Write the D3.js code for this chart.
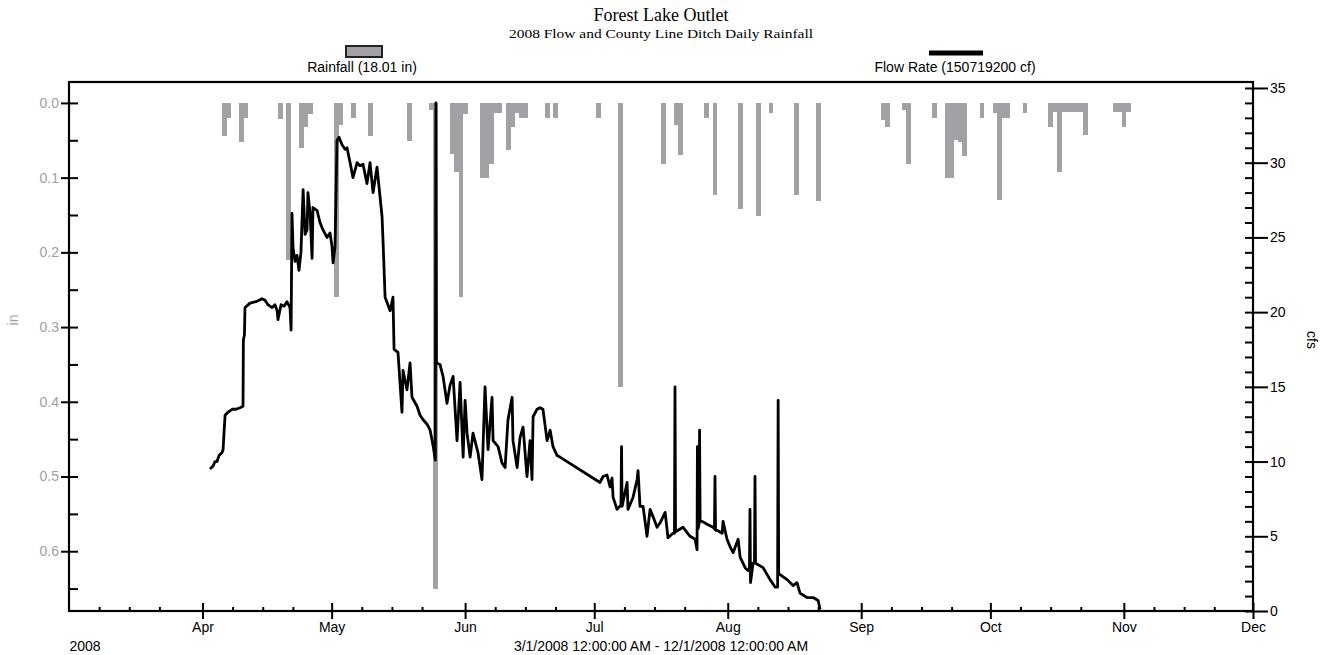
<!DOCTYPE html>
<html>
<head>
<meta charset="utf-8">
<script src="https://cdn.jsdelivr.net/npm/d3@7"></script>
<style>
  body { margin: 0; background: #fff; }
  text { font-family: "Liberation Sans", Arial, sans-serif; }
  .serif { font-family: "Liberation Serif", "Times New Roman", serif; }
</style>
</head>
<body>
<svg id="chart" width="1322" height="655"></svg>
<script>
// Daily rainfall, County Line Ditch (in)
var rainDates = ["04-06","04-07","04-10","04-11","04-19","04-21","04-24","04-25","04-26",
  "05-02","05-03","05-06","05-10","05-19","05-24","05-25","05-29","05-30","05-31",
  "06-01","06-05","06-06","06-07","06-08","06-09","06-11","06-12","06-13","06-14","06-15","06-20","06-22",
  "07-02","07-07","07-17","07-20","07-21","07-27","07-29",
  "08-04","08-08","08-11","08-17","08-22",
  "09-06","09-07","09-11","09-12","09-18","09-21","09-22","09-23","09-24","09-25","09-29",
  "10-02","10-03","10-04","10-05","10-09","10-15","10-16","10-17","10-18","10-19","10-20","10-21","10-22","10-23",
  "10-30","10-31","11-01","11-02"];
var rainInches = [0.044,0.02,0.052,0.02,0.021,0.21,0.06,0.032,0.015,
  0.26,0.03,0.02,0.044,0.051,0.01,0.65,0.069,0.092,0.26,
  0.015,0.1,0.1,0.082,0.013,0.013,0.063,0.032,0.013,0.02,0.02,0.02,0.02,
  0.02,0.38,0.082,0.03,0.07,0.02,0.123,
  0.142,0.151,0.013,0.123,0.131,
  0.023,0.032,0.01,0.082,0.02,0.1,0.1,0.05,0.052,0.071,0.02,
  0.013,0.13,0.02,0.02,0.013,0.032,0.012,0.092,0.012,0.012,0.012,0.012,0.012,0.043,
  0.012,0.012,0.032,0.012];

// Forest Lake outlet flow (cfs), "MM-DD HH"
var flowTimes = ["04-02 18","04-03 11","04-03 22","04-04 09","04-04 20","04-05 13","04-05 19","04-06 00",
  "04-06 06","04-06 22","04-07 21","04-08 19","04-09 17","04-10 10","04-10 12","04-10 18","04-10 21",
  "04-12 01","04-13 10","04-14 20","04-15 13","04-16 05","04-17 04","04-17 20","04-18 08","04-18 13",
  "04-19 06","04-19 23","04-20 15","04-21 08","04-21 14","04-21 19","04-22 01","04-22 12","04-22 23",
  "04-23 10","04-23 21","04-24 09","04-24 20","04-25 07","04-25 12","04-26 00","04-26 11","04-26 16",
  "04-27 15","04-28 07","04-29 00","04-29 22","04-30 15",
  "05-01 02","05-01 08","05-01 19","05-02 06","05-02 17","05-03 10","05-04 03","05-04 14","05-05 07",
  "05-05 23","05-06 22","05-07 14","05-08 07","05-09 05","05-09 22","05-10 15","05-11 13","05-12 06",
  "05-12 17","05-12 23","05-13 10","05-14 14","05-15 06","05-15 12","05-16 10","05-17 08","05-17 14",
  "05-18 12","05-19 05","05-19 16","05-20 20","05-21 13","05-22 06","05-23 04","05-23 21","05-24 13",
  "05-25 02","05-25 05","05-25 08","05-26 04","05-26 21","05-27 19","05-28 12","05-29 05","05-30 03",
  "05-30 20","05-31 13",
  "06-01 00","06-01 11","06-02 04","06-02 20","06-04 00","06-04 22","06-05 15","06-06 08","06-07 06",
  "06-07 12","06-08 16","06-09 14","06-10 07","06-10 23","06-11 22","06-12 03","06-13 02","06-13 18",
  "06-14 11","06-15 09","06-16 02","06-16 13","06-16 19","06-17 17","06-18 10","06-19 02","06-20 01",
  "06-20 18","06-21 10","06-22 09","06-23 01",
  "07-02 08","07-03 01","07-03 23","07-04 16","07-05 03","07-05 09","07-06 07","07-07 05","07-07 08",
  "07-07 11","07-08 15","07-08 20","07-10 00","07-10 23","07-11 04","07-11 15","07-12 08","07-13 06",
  "07-13 23","07-14 16","07-15 14","07-16 07","07-17 11","07-18 03","07-19 07","07-19 15","07-19 18",
  "07-19 21","07-21 15","07-23 06","07-24 10","07-24 21","07-24 23","07-25 02","07-25 08","07-25 11",
  "07-25 14","07-26 01","07-27 05","07-28 14","07-28 22","07-29 01","07-29 04","07-29 13","07-30 17",
  "07-30 22","07-31 20",
  "08-01 13","08-02 06","08-03 10","08-03 21","08-05 01","08-05 17","08-06 01","08-06 04","08-06 07",
  "08-06 21","08-07 05","08-07 08","08-07 11","08-09 05","08-10 20","08-12 00","08-12 14","08-12 17",
  "08-12 20","08-14 19","08-16 04","08-17 02","08-17 19","08-19 10","08-20 20","08-22 00","08-22 11"];
var flowCfs = [9.5,9.7,10.0,10.0,10.4,10.6,10.8,11.9,
  13.1,13.3,13.5,13.5,13.6,13.7,18.1,18.5,20.3,
  20.6,20.7,20.9,20.8,20.5,20.3,20.5,20.1,19.5,
  20.5,20.4,20.7,20.3,18.8,26.6,24.3,23.4,23.8,
  22.8,24.0,28.2,25.2,25.5,28.0,26.6,23.6,27.0,
  26.8,26.0,25.5,25.0,25.3,
  24.4,23.3,24.4,31.5,31.7,31.2,30.9,31.0,30.0,
  29.0,30.0,29.8,29.9,28.6,30.0,28.0,29.7,27.7,
  26.4,24.6,21.0,20.1,21.0,17.5,17.3,13.3,16.1,
  14.8,16.6,14.3,13.7,13.1,12.8,12.5,12.1,11.1,
  10.1,34.0,16.6,16.5,15.7,13.9,15.1,15.7,11.4,
  15.3,10.3,
  14.1,11.9,10.3,11.9,10.6,8.8,15.0,10.8,14.3,
  11.4,11.0,9.9,9.6,12.8,14.3,11.4,9.6,11.6,
  12.3,9.0,11.4,8.8,13.0,13.5,13.6,13.5,11.4,
  12.1,11.0,10.4,10.3,
  8.6,9.0,9.1,8.3,8.9,7.6,6.8,7.1,11.0,
  7.0,8.6,6.8,7.6,8.8,9.4,7.0,7.0,5.0,
  6.8,6.3,5.6,5.9,6.6,4.9,5.2,5.2,15.0,
  5.3,5.6,5.0,4.8,4.1,11.0,5.5,5.8,12.1,
  6.0,6.0,5.8,5.6,5.5,9.0,5.4,5.4,5.2,
  6.0,4.8,
  4.3,3.9,4.8,3.6,2.9,2.7,2.7,6.8,1.9,
  3.2,3.2,9.0,3.2,2.9,2.1,1.6,1.6,14.1,
  2.5,2.1,1.7,1.9,1.2,0.9,0.9,0.7,0.1];

var leftTicks = [0, 0.1, 0.2, 0.3, 0.4, 0.5, 0.6];
var leftMinor = [0.05, 0.15, 0.25, 0.35, 0.45, 0.55, 0.65];
var rightTicks = [0, 5, 10, 15, 20, 25, 30, 35];
var monthTicks = ["04-01","05-01","06-01","07-01","08-01","09-01","10-01","11-01","12-01"];

var parseDay = d3.utcParse("%Y-%m-%d");
var parseHour = d3.utcParse("%Y-%m-%d %H");

var rain = rainDates.map(function (d, i) { return { date: parseDay("2008-" + d), value: rainInches[i] }; });
var flow = flowTimes.map(function (d, i) { return { date: parseHour("2008-" + d), value: flowCfs[i] }; });

// plot frame (pixels)
var plotLeft = 69, plotRight = 1253, plotTop = 82, plotBottom = 611;
var fontSize = "14px";

var svg = d3.select("#chart");

var x = d3.scaleUtc()
  .domain([parseDay("2008-03-01"), parseDay("2008-12-01")])
  .range([plotLeft, plotRight]);

// rainfall hangs from the top, 0 in sits a bit below the frame
var yRain = d3.scaleLinear().domain([-0.028, 0.68]).range([plotTop, plotBottom]);
var yFlow = d3.scaleLinear().domain([0, 35.4]).range([plotBottom, plotTop]);

// Rain bars
svg.append("g")
  .attr("shape-rendering", "crispEdges")
  .selectAll("rect")
  .data(rain)
  .enter()
  .append("rect")
  .attr("x", function (d) { return x(d3.utcHour.offset(d.date, -12)); })
  .attr("width", function (d) { return x(d3.utcHour.offset(d.date, 12)) - x(d3.utcHour.offset(d.date, -12)) + 0.5; })
  .attr("y", yRain(0))
  .attr("height", function (d) { return yRain(d.value) - yRain(0); })
  .attr("fill", "#a2a2a6");

// Flow line
var line = d3.line()
  .x(function (d) { return x(d.date); })
  .y(function (d) { return yFlow(d.value); });

svg.append("path")
  .datum(flow)
  .attr("d", line)
  .attr("fill", "none")
  .attr("stroke", "#000")
  .attr("stroke-width", 2.8)
  .attr("stroke-linejoin", "round");

// Axes
function styleAxis(g, color) {
  g.select(".domain").remove();
  g.selectAll("line").attr("stroke", "#000").attr("stroke-width", 2);
  g.selectAll("text").attr("fill", color || "#000").style("font-size", fontSize);
}

svg.append("g")
  .attr("transform", "translate(" + plotLeft + ",0)")
  .call(d3.axisLeft(yRain).tickValues(leftTicks).tickSize(8).tickPadding(2).tickFormat(d3.format(".1f")))
  .call(styleAxis, "#a0a0a0");
svg.append("g")
  .attr("transform", "translate(" + plotLeft + ",0)")
  .call(d3.axisLeft(yRain).tickValues(leftTicks.concat(leftMinor)).tickSize(-9).tickFormat(""))
  .call(styleAxis);

svg.append("g")
  .attr("transform", "translate(" + plotRight + ",0)")
  .call(d3.axisRight(yFlow).tickValues(rightTicks).tickSize(15).tickPadding(2))
  .call(styleAxis);
svg.append("g")
  .attr("transform", "translate(" + plotRight + ",0)")
  .call(d3.axisRight(yFlow).tickValues(d3.range(0, 36)).tickSize(-8).tickFormat(""))
  .call(styleAxis);

var months = monthTicks.map(function (d) { return parseDay("2008-" + d); });
var weeks = [];
d3.utcMonths(parseDay("2008-03-01"), parseDay("2008-12-01")).forEach(function (m) {
  [7, 14, 21].forEach(function (k) { weeks.push(d3.utcDay.offset(m, k)); });
});

svg.append("g")
  .attr("transform", "translate(0," + plotBottom + ")")
  .call(d3.axisBottom(x).tickValues(months).tickSize(8).tickPadding(3).tickFormat(d3.utcFormat("%b")))
  .call(styleAxis);
svg.append("g")
  .attr("transform", "translate(0," + plotBottom + ")")
  .call(d3.axisBottom(x).tickValues(months).tickSize(-8).tickFormat(""))
  .call(styleAxis);
svg.append("g")
  .attr("transform", "translate(0," + plotBottom + ")")
  .call(d3.axisBottom(x).tickValues(weeks).tickSize(-4).tickFormat(""))
  .call(styleAxis);

// Frame
svg.append("rect")
  .attr("x", plotLeft).attr("y", plotTop)
  .attr("width", plotRight - plotLeft).attr("height", plotBottom - plotTop)
  .attr("fill", "none").attr("stroke", "#000").attr("stroke-width", 2.2);

// Axis titles
svg.append("text")
  .attr("transform", "translate(18,320) rotate(-90)")
  .attr("text-anchor", "middle")
  .attr("fill", "#a0a0a0")
  .style("font-size", fontSize)
  .text("in");
svg.append("text")
  .attr("transform", "translate(1307,340) rotate(90)")
  .attr("text-anchor", "middle")
  .style("font-size", fontSize)
  .text("cfs");

svg.append("text")
  .attr("x", 85).attr("y", 651)
  .attr("text-anchor", "middle")
  .style("font-size", fontSize)
  .text("2008");
svg.append("text")
  .attr("x", 661).attr("y", 651)
  .attr("text-anchor", "middle")
  .style("font-size", fontSize)
  .text("3/1/2008 12:00:00 AM - 12/1/2008 12:00:00 AM");

// Titles
svg.append("text")
  .attr("class", "serif")
  .attr("x", 661).attr("y", 21)
  .attr("text-anchor", "middle")
  .style("font-size", "18px")
  .text("Forest Lake Outlet");
svg.append("text")
  .attr("class", "serif")
  .attr("x", 661).attr("y", 38)
  .attr("text-anchor", "middle")
  .attr("textLength", 304)
  .attr("lengthAdjust", "spacingAndGlyphs")
  .style("font-size", "12px")
  .text("2008 Flow and County Line Ditch Daily Rainfall");

// Legend
svg.append("rect")
  .attr("x", 346).attr("y", 46).attr("width", 36).attr("height", 11)
  .attr("fill", "#a2a2a6").attr("stroke", "#222").attr("stroke-width", 2);
svg.append("text")
  .attr("x", 362).attr("y", 72)
  .attr("text-anchor", "middle")
  .style("font-size", fontSize)
  .text("Rainfall (18.01 in)");

svg.append("line")
  .attr("x1", 929).attr("x2", 983).attr("y1", 53).attr("y2", 53)
  .attr("stroke", "#000").attr("stroke-width", 5);
svg.append("text")
  .attr("x", 955).attr("y", 72)
  .attr("text-anchor", "middle")
  .style("font-size", fontSize)
  .text("Flow Rate (150719200 cf)");
</script>
</body>
</html>
